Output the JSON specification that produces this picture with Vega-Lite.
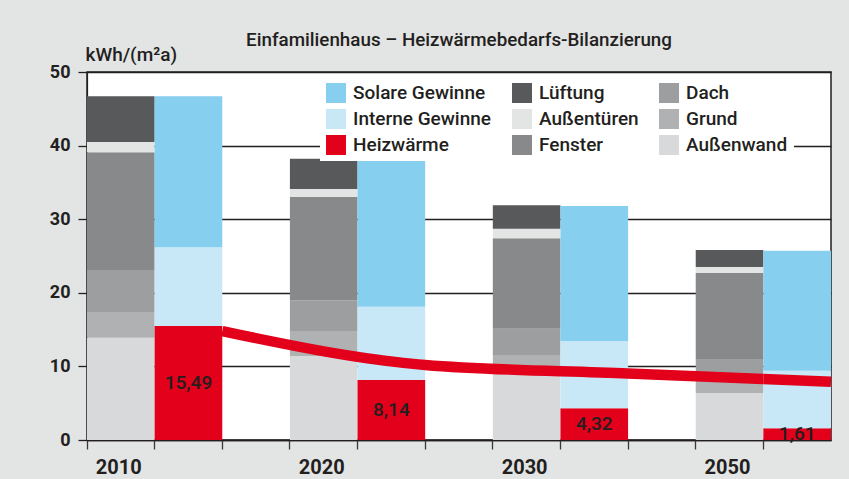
{
  "$schema": "https://vega.github.io/schema/vega-lite/v6.json",
  "width": 744,
  "height": 368,
  "autosize": {"type": "none"},
  "padding": {"left": 87, "top": 72, "right": 18, "bottom": 39},
  "background": "#e3e4e4",
  "config": {
    "font": "Roboto",
    "view": {"fill": "#ffffff", "stroke": "#231f20", "strokeWidth": 1.5},
    "axis": {"labelFont": "Roboto", "titleFont": "Roboto", "labelColor": "#231f20", "titleColor": "#231f20"},
    "legend": {
      "orient": "none",
      "legendX": 233,
      "legendY": 5,
      "columns": 3,
      "symbolType": "square",
      "symbolSize": 400,
      "symbolStrokeWidth": 0,
      "symbolOpacity": 1,
      "labelFont": "Roboto",
      "labelFontSize": 19,
      "labelFontWeight": 500,
      "labelColor": "#231f20",
      "labelOffset": 7,
      "labelLimit": 300,
      "fillColor": "#ffffff",
      "padding": 6,
      "rowPadding": 6,
      "columnPadding": 20,
      "gridAlign": "each"
    }
  },
  "title": {
    "text": "Einfamilienhaus – Heizwärmebedarfs-Bilanzierung",
    "anchor": "middle",
    "frame": "group",
    "offset": -20,
    "baseline": "alphabetic",
    "font": "Roboto",
    "fontSize": 18.8,
    "fontWeight": 500,
    "color": "#231f20"
  },
  "datasets": {
    "bilanz": [
      {"jahr": "2010", "seite": "Verluste", "komponente": "Außenwand", "wert": 13.9},
      {"jahr": "2010", "seite": "Verluste", "komponente": "Grund", "wert": 3.5},
      {"jahr": "2010", "seite": "Verluste", "komponente": "Dach", "wert": 5.7},
      {"jahr": "2010", "seite": "Verluste", "komponente": "Fenster", "wert": 16.0},
      {"jahr": "2010", "seite": "Verluste", "komponente": "Außentüren", "wert": 1.4},
      {"jahr": "2010", "seite": "Verluste", "komponente": "Lüftung", "wert": 6.2},
      {"jahr": "2010", "seite": "Gewinne", "komponente": "Heizwärme", "wert": 15.49},
      {"jahr": "2010", "seite": "Gewinne", "komponente": "Interne Gewinne", "wert": 10.71},
      {"jahr": "2010", "seite": "Gewinne", "komponente": "Solare Gewinne", "wert": 20.5},
      {"jahr": "2020", "seite": "Verluste", "komponente": "Außenwand", "wert": 11.4},
      {"jahr": "2020", "seite": "Verluste", "komponente": "Grund", "wert": 3.3},
      {"jahr": "2020", "seite": "Verluste", "komponente": "Dach", "wert": 4.3},
      {"jahr": "2020", "seite": "Verluste", "komponente": "Fenster", "wert": 14.0},
      {"jahr": "2020", "seite": "Verluste", "komponente": "Außentüren", "wert": 1.1},
      {"jahr": "2020", "seite": "Verluste", "komponente": "Lüftung", "wert": 4.1},
      {"jahr": "2020", "seite": "Gewinne", "komponente": "Heizwärme", "wert": 8.14},
      {"jahr": "2020", "seite": "Gewinne", "komponente": "Interne Gewinne", "wert": 9.96},
      {"jahr": "2020", "seite": "Gewinne", "komponente": "Solare Gewinne", "wert": 20.1},
      {"jahr": "2030", "seite": "Verluste", "komponente": "Außenwand", "wert": 10.0},
      {"jahr": "2030", "seite": "Verluste", "komponente": "Grund", "wert": 1.55},
      {"jahr": "2030", "seite": "Verluste", "komponente": "Dach", "wert": 3.55},
      {"jahr": "2030", "seite": "Verluste", "komponente": "Fenster", "wert": 12.3},
      {"jahr": "2030", "seite": "Verluste", "komponente": "Außentüren", "wert": 1.3},
      {"jahr": "2030", "seite": "Verluste", "komponente": "Lüftung", "wert": 3.2},
      {"jahr": "2030", "seite": "Gewinne", "komponente": "Heizwärme", "wert": 4.32},
      {"jahr": "2030", "seite": "Gewinne", "komponente": "Interne Gewinne", "wert": 9.13},
      {"jahr": "2030", "seite": "Gewinne", "komponente": "Solare Gewinne", "wert": 18.35},
      {"jahr": "2050", "seite": "Verluste", "komponente": "Außenwand", "wert": 6.4},
      {"jahr": "2050", "seite": "Verluste", "komponente": "Grund", "wert": 2.2},
      {"jahr": "2050", "seite": "Verluste", "komponente": "Dach", "wert": 2.4},
      {"jahr": "2050", "seite": "Verluste", "komponente": "Fenster", "wert": 11.7},
      {"jahr": "2050", "seite": "Verluste", "komponente": "Außentüren", "wert": 0.8},
      {"jahr": "2050", "seite": "Verluste", "komponente": "Lüftung", "wert": 2.3},
      {"jahr": "2050", "seite": "Gewinne", "komponente": "Heizwärme", "wert": 1.61},
      {"jahr": "2050", "seite": "Gewinne", "komponente": "Interne Gewinne", "wert": 7.79},
      {"jahr": "2050", "seite": "Gewinne", "komponente": "Solare Gewinne", "wert": 16.3}
    ],
    "linie": [
      {"platz": "2010 Abstand", "wert": 14.8},
      {"platz": "2020 Gewinne", "wert": 11.3},
      {"platz": "2020 Abstand", "wert": 10.2},
      {"platz": "2030 Abstand", "wert": 9.05},
      {"platz": "2050 Gewinne", "wert": 8.28}
    ],
    "linienende": [
      {"platz": "2050 Verluste", "wert": 8.28},
      {"platz": "2050 Gewinne", "wert": 7.9}
    ],
    "seiten": [
      {"platz": "2010 Verluste", "text": "Verluste"},
      {"platz": "2010 Gewinne", "text": "Gewinne"}
    ]
  },
  "encoding": {
    "x": {
      "field": "platz",
      "type": "nominal",
      "sort": ["2010 Verluste", "2010 Gewinne", "2010 Abstand", "2020 Verluste", "2020 Gewinne", "2020 Abstand", "2030 Verluste", "2030 Gewinne", "2030 Abstand", "2050 Verluste", "2050 Gewinne"],
      "scale": {
        "domain": ["2010 Verluste", "2010 Gewinne", "2010 Abstand", "2020 Verluste", "2020 Gewinne", "2020 Abstand", "2030 Verluste", "2030 Gewinne", "2030 Abstand", "2050 Verluste", "2050 Gewinne"],
        "paddingInner": 0,
        "paddingOuter": 0
      },
      "axis": {
        "title": null,
        "labelAngle": 0,
        "bandPosition": 0,
        "ticks": true,
        "tickSize": 9,
        "tickWidth": 1.3,
        "tickColor": "#3a3a3c",
        "domainColor": "#231f20",
        "domainWidth": 1.5,
        "labelExpr": "indexof(datum.label, 'Verluste') > 0 ? substring(datum.label, 0, 4) : ''",
        "labelOffset": -2,
        "labelPadding": 8,
        "labelFontSize": 20,
        "labelFontWeight": "bold"
      }
    },
    "y": {
      "field": "wert",
      "type": "quantitative",
      "scale": {"domain": [0, 50], "nice": false},
      "axis": {
        "values": [0, 10, 20, 30, 40, 50],
        "grid": true,
        "gridColor": "#231f20",
        "gridWidth": 1.5,
        "gridOpacity": 1,
        "domainColor": "#231f20",
        "domainWidth": 1.2,
        "tickColor": "#231f20",
        "tickSize": 9,
        "tickWidth": 1.3,
        "labelPadding": 8,
        "labelFontSize": 18,
        "labelFontWeight": "bold",
        "title": "kWh/(m²a)",
        "titleAngle": 0,
        "titleX": -2,
        "titleY": -12,
        "titleAlign": "left",
        "titleBaseline": "alphabetic",
        "titleFontSize": 19,
        "titleFontWeight": 500
      }
    }
  },
  "layer": [
    {
      "data": {"name": "bilanz"},
      "transform": [
        {"calculate": "datum.jahr + ' ' + datum.seite", "as": "platz"},
        {"calculate": "indexof(['Außenwand','Grund','Dach','Fenster','Außentüren','Lüftung','Heizwärme','Interne Gewinne','Solare Gewinne'], datum.komponente)", "as": "rang"}
      ],
      "mark": {"type": "bar"},
      "encoding": {
        "y": {"field": "wert", "type": "quantitative", "stack": "zero"},
        "color": {
          "field": "komponente",
          "type": "nominal",
          "scale": {
            "domain": ["Solare Gewinne", "Interne Gewinne", "Heizwärme", "Lüftung", "Außentüren", "Fenster", "Dach", "Grund", "Außenwand"],
            "range": ["#86cfee", "#c8e7f7", "#e2001a", "#58595b", "#e3e4e4", "#88898b", "#9d9ea0", "#b0b1b3", "#d8d9db"]
          },
          "legend": {"title": null}
        },
        "order": {"field": "rang", "type": "quantitative"}
      }
    },
    {
      "data": {"name": "linie"},
      "mark": {"type": "line", "color": "#e2001a", "strokeWidth": 10.5, "strokeCap": "butt", "interpolate": "monotone"},
      "encoding": {
        "x": {
          "field": "platz",
          "type": "nominal",
          "bandPosition": 0,
          "sort": ["2010 Verluste", "2010 Gewinne", "2010 Abstand", "2020 Verluste", "2020 Gewinne", "2020 Abstand", "2030 Verluste", "2030 Gewinne", "2030 Abstand", "2050 Verluste", "2050 Gewinne"]
        }
      }
    },
    {
      "data": {"name": "linienende"},
      "mark": {"type": "line", "color": "#e2001a", "strokeWidth": 10.5, "strokeCap": "butt"},
      "encoding": {
        "x": {
          "field": "platz",
          "type": "nominal",
          "bandPosition": 1,
          "sort": ["2010 Verluste", "2010 Gewinne", "2010 Abstand", "2020 Verluste", "2020 Gewinne", "2020 Abstand", "2030 Verluste", "2030 Gewinne", "2030 Abstand", "2050 Verluste", "2050 Gewinne"]
        }
      }
    },
    {
      "data": {"name": "bilanz"},
      "transform": [
        {"filter": "datum.komponente === 'Heizwärme'"},
        {"calculate": "datum.jahr + ' ' + datum.seite", "as": "platz"},
        {"calculate": "datum.wert / 2", "as": "mitte"},
        {"calculate": "replace(format(datum.wert, '.2f'), '.', ',')", "as": "beschriftung"}
      ],
      "mark": {"type": "text", "fontSize": 19, "fontWeight": 500, "color": "#231f20", "baseline": "middle", "align": "center"},
      "encoding": {
        "y": {"field": "mitte", "type": "quantitative"},
        "text": {"field": "beschriftung", "type": "nominal"}
      }
    },
    {
      "data": {"name": "seiten"},
      "mark": {"type": "text", "fontSize": 18, "fontWeight": 500, "color": "#231f20", "baseline": "middle", "align": "center", "angle": 270},
      "encoding": {
        "y": {"datum": 32.6, "type": "quantitative"},
        "text": {"field": "text", "type": "nominal"}
      }
    }
  ]
}
